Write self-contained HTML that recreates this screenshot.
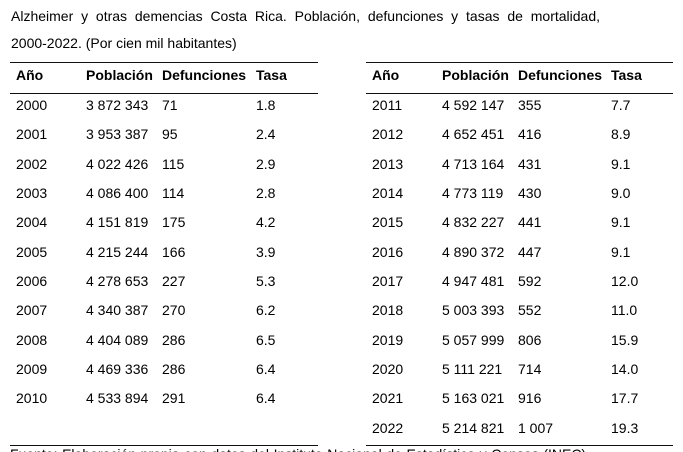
<!DOCTYPE html>
<html>
<head>
<meta charset="utf-8">
<style>
  html, body { margin:0; padding:0; background:#fff; overflow:hidden; }
  #w { width:683px; height:452px; overflow:hidden; position:relative;
         font-family:"Liberation Sans", Arial, sans-serif; font-size:14px; color:#000; }
  .t { position:absolute; line-height:16px; white-space:nowrap; }
  .j { position:absolute; left:11px; width:589px; line-height:16px; text-align:justify; text-align-last:justify; white-space:nowrap; }
  .hr { position:absolute; height:1px; background:#111; }
  b { font-weight:bold; }
</style>
</head>
<body>
<div id="w">
<div class="j" style="top:8px; white-space:normal;">Alzheimer y otras demencias Costa Rica. Población, defunciones y tasas de mortalidad,</div>
<div class="t" style="left:11px; top:35px;">2000-2022. (Por cien mil habitantes)</div>

<div class="hr" style="left:10px; width:308px; top:62px;"></div>
<div class="hr" style="left:10px; width:308px; top:93px;"></div>
<div class="hr" style="left:10px; width:308px; top:445px;"></div>
<div class="hr" style="left:366px; width:307px; top:62px;"></div>
<div class="hr" style="left:366px; width:307px; top:93px;"></div>
<div class="hr" style="left:366px; width:307px; top:445px;"></div>

<!-- headers -->
<div class="t" style="top:67px; left:16px;"><b>Año</b></div>
<div class="t" style="top:67px; left:86px;"><b>Población</b></div>
<div class="t" style="top:67px; left:162px;"><b>Defunciones</b></div>
<div class="t" style="top:67px; left:256px;"><b>Tasa</b></div>
<div class="t" style="top:67px; left:372px;"><b>Año</b></div>
<div class="t" style="top:67px; left:442px;"><b>Población</b></div>
<div class="t" style="top:67px; left:518px;"><b>Defunciones</b></div>
<div class="t" style="top:67px; left:611px;"><b>Tasa</b></div>

<!-- left rows -->
<div class="t" style="top:97px;left:16px">2000</div><div class="t" style="top:97px;left:86px">3 872 343</div><div class="t" style="top:97px;left:162px">71</div><div class="t" style="top:97px;left:256px">1.8</div>
<div class="t" style="top:126px;left:16px">2001</div><div class="t" style="top:126px;left:86px">3 953 387</div><div class="t" style="top:126px;left:162px">95</div><div class="t" style="top:126px;left:256px">2.4</div>
<div class="t" style="top:156px;left:16px">2002</div><div class="t" style="top:156px;left:86px">4 022 426</div><div class="t" style="top:156px;left:162px">115</div><div class="t" style="top:156px;left:256px">2.9</div>
<div class="t" style="top:185px;left:16px">2003</div><div class="t" style="top:185px;left:86px">4 086 400</div><div class="t" style="top:185px;left:162px">114</div><div class="t" style="top:185px;left:256px">2.8</div>
<div class="t" style="top:214px;left:16px">2004</div><div class="t" style="top:214px;left:86px">4 151 819</div><div class="t" style="top:214px;left:162px">175</div><div class="t" style="top:214px;left:256px">4.2</div>
<div class="t" style="top:244px;left:16px">2005</div><div class="t" style="top:244px;left:86px">4 215 244</div><div class="t" style="top:244px;left:162px">166</div><div class="t" style="top:244px;left:256px">3.9</div>
<div class="t" style="top:273px;left:16px">2006</div><div class="t" style="top:273px;left:86px">4 278 653</div><div class="t" style="top:273px;left:162px">227</div><div class="t" style="top:273px;left:256px">5.3</div>
<div class="t" style="top:302px;left:16px">2007</div><div class="t" style="top:302px;left:86px">4 340 387</div><div class="t" style="top:302px;left:162px">270</div><div class="t" style="top:302px;left:256px">6.2</div>
<div class="t" style="top:332px;left:16px">2008</div><div class="t" style="top:332px;left:86px">4 404 089</div><div class="t" style="top:332px;left:162px">286</div><div class="t" style="top:332px;left:256px">6.5</div>
<div class="t" style="top:361px;left:16px">2009</div><div class="t" style="top:361px;left:86px">4 469 336</div><div class="t" style="top:361px;left:162px">286</div><div class="t" style="top:361px;left:256px">6.4</div>
<div class="t" style="top:390px;left:16px">2010</div><div class="t" style="top:390px;left:86px">4 533 894</div><div class="t" style="top:390px;left:162px">291</div><div class="t" style="top:390px;left:256px">6.4</div>

<!-- right rows -->
<div class="t" style="top:97px;left:372px">2011</div><div class="t" style="top:97px;left:442px">4 592 147</div><div class="t" style="top:97px;left:518px">355</div><div class="t" style="top:97px;left:611px">7.7</div>
<div class="t" style="top:126px;left:372px">2012</div><div class="t" style="top:126px;left:442px">4 652 451</div><div class="t" style="top:126px;left:518px">416</div><div class="t" style="top:126px;left:611px">8.9</div>
<div class="t" style="top:156px;left:372px">2013</div><div class="t" style="top:156px;left:442px">4 713 164</div><div class="t" style="top:156px;left:518px">431</div><div class="t" style="top:156px;left:611px">9.1</div>
<div class="t" style="top:185px;left:372px">2014</div><div class="t" style="top:185px;left:442px">4 773 119</div><div class="t" style="top:185px;left:518px">430</div><div class="t" style="top:185px;left:611px">9.0</div>
<div class="t" style="top:214px;left:372px">2015</div><div class="t" style="top:214px;left:442px">4 832 227</div><div class="t" style="top:214px;left:518px">441</div><div class="t" style="top:214px;left:611px">9.1</div>
<div class="t" style="top:244px;left:372px">2016</div><div class="t" style="top:244px;left:442px">4 890 372</div><div class="t" style="top:244px;left:518px">447</div><div class="t" style="top:244px;left:611px">9.1</div>
<div class="t" style="top:273px;left:372px">2017</div><div class="t" style="top:273px;left:442px">4 947 481</div><div class="t" style="top:273px;left:518px">592</div><div class="t" style="top:273px;left:611px">12.0</div>
<div class="t" style="top:302px;left:372px">2018</div><div class="t" style="top:302px;left:442px">5 003 393</div><div class="t" style="top:302px;left:518px">552</div><div class="t" style="top:302px;left:611px">11.0</div>
<div class="t" style="top:332px;left:372px">2019</div><div class="t" style="top:332px;left:442px">5 057 999</div><div class="t" style="top:332px;left:518px">806</div><div class="t" style="top:332px;left:611px">15.9</div>
<div class="t" style="top:361px;left:372px">2020</div><div class="t" style="top:361px;left:442px">5 111 221</div><div class="t" style="top:361px;left:518px">714</div><div class="t" style="top:361px;left:611px">14.0</div>
<div class="t" style="top:390px;left:372px">2021</div><div class="t" style="top:390px;left:442px">5 163 021</div><div class="t" style="top:390px;left:518px">916</div><div class="t" style="top:390px;left:611px">17.7</div>
<div class="t" style="top:420px;left:372px">2022</div><div class="t" style="top:420px;left:442px">5 214 821</div><div class="t" style="top:420px;left:518px">1 007</div><div class="t" style="top:420px;left:611px">19.3</div>

<div class="j" style="top:446px; width:580px; left:10px; white-space:normal;">Fuente: Elaboración propia con datos del Instituto Nacional de Estadística y Censos (INEC).</div>
</div>
</body>
</html>
